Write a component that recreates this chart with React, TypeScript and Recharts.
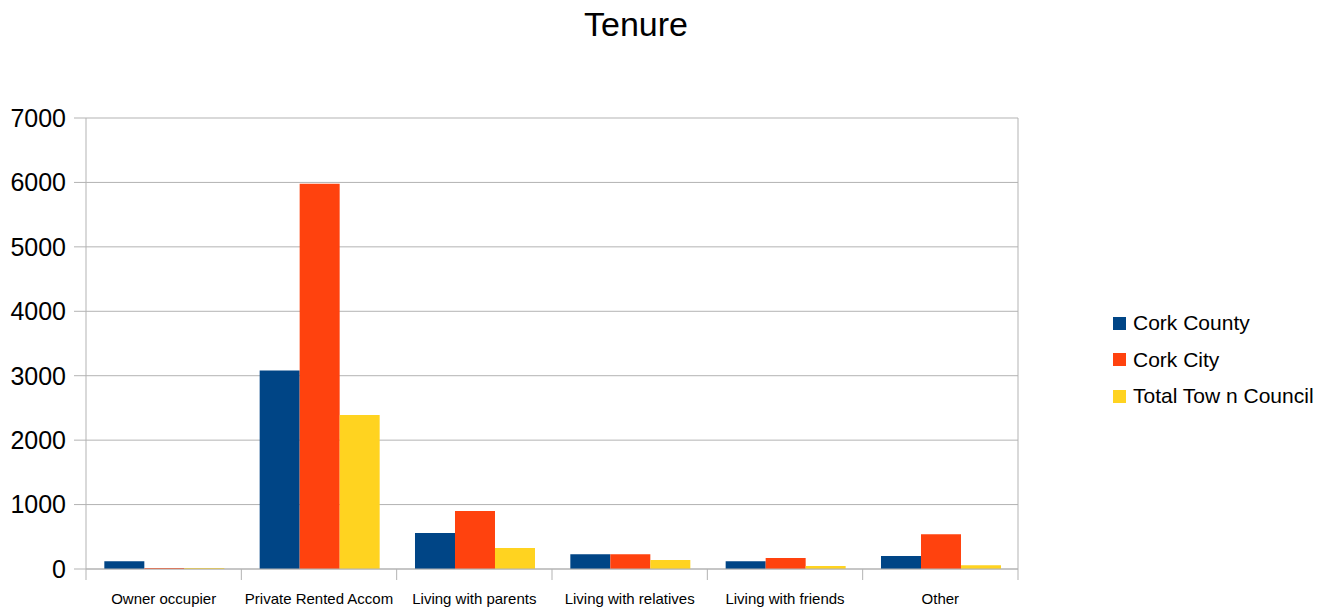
import { BarChart, Bar, XAxis, YAxis, CartesianGrid } from "recharts";

const categories = [
  "Owner occupier",
  "Private Rented Accom",
  "Living with parents",
  "Living with relatives",
  "Living with friends",
  "Other",
];
const corkCounty = [120, 3080, 560, 230, 120, 200];
const corkCity = [15, 5980, 900, 230, 170, 540];
const townCouncil = [15, 2390, 325, 140, 45, 60];
const yTicks = [0, 1000, 2000, 3000, 4000, 5000, 6000, 7000];

const seriesInfo = [
  { key: "county", name: "Cork County", color: "#004586" },
  { key: "city", name: "Cork City", color: "#ff420e" },
  { key: "town", name: "Total Tow n Council", color: "#ffd320" },
];

const data = categories.map((name, i) => ({
  name,
  county: corkCounty[i],
  city: corkCity[i],
  town: townCouncil[i],
}));

const FONT = "'Liberation Sans', Arial, sans-serif";
const W = 1333;
const H = 607;
const LEFT = 86;
const RIGHT_MARGIN = 314;
const PLOT_W = W - LEFT - RIGHT_MARGIN - 1;
const BAND = PLOT_W / categories.length;
const GRID = "#b3b3b3";

function CategoryTick(props: any) {
  const { x, y, payload, index } = props;
  const half = BAND / 2;
  return (
    <g>
      <line x1={x - half} x2={x - half} y1={y} y2={y + 11} stroke={GRID} />
      {index === categories.length - 1 && (
        <line x1={x + half} x2={x + half} y1={y} y2={y + 11} stroke={GRID} />
      )}
      <text x={x} y={y + 35} textAnchor="middle" fontSize={15} fill="#000" fontFamily={FONT}>
        {payload.value}
      </text>
    </g>
  );
}

function LegendBox() {
  return (
    <div
      style={{
        position: "absolute",
        left: 1113,
        top: 305,
        fontFamily: FONT,
        fontSize: 21,
        color: "#000",
        whiteSpace: "nowrap",
      }}
    >
      {seriesInfo.map((s) => (
        <div key={s.key} style={{ display: "flex", alignItems: "center", height: 36.5 }}>
          <span style={{ width: 13, height: 13, background: s.color, marginRight: 7, display: "inline-block" }} />
          <span>{s.name}</span>
        </div>
      ))}
    </div>
  );
}

export default function App() {
  return (
    <div style={{ position: "absolute", left: 0, top: 0, width: W, height: H, background: "#fff" }}>
      <div
        style={{
          position: "absolute",
          left: 0,
          top: 5,
          width: 1272,
          textAlign: "center",
          fontFamily: FONT,
          fontSize: 34,
          color: "#000",
        }}
      >
        Tenure
      </div>
      <BarChart
        width={W}
        height={H}
        data={data}
        margin={{ top: 118, right: RIGHT_MARGIN, bottom: 0, left: 0 }}
        barCategoryGap="11.8%"
        barGap={0}
      >
        <CartesianGrid vertical={false} stroke={GRID} strokeWidth={1} />
        <XAxis
          dataKey="name"
          height={38}
          axisLine={{ stroke: GRID }}
          tickLine={false}
          tickSize={0}
          tickMargin={0}
          interval={0}
          tick={<CategoryTick />}
        />
        <YAxis
          width={LEFT}
          domain={[0, 7000]}
          ticks={yTicks}
          interval={0}
          axisLine={{ stroke: GRID }}
          tickLine={{ stroke: GRID }}
          tickSize={12}
          tickMargin={8}
          tick={{ fontSize: 25, fill: "#000", fontFamily: FONT }}
        />
        <YAxis
          yAxisId="frame"
          orientation="right"
          width={1}
          domain={[0, 7000]}
          axisLine={{ stroke: GRID }}
          tick={false}
          tickLine={false}
        />
        {seriesInfo.map((s) => (
          <Bar key={s.key} dataKey={s.key} name={s.name} fill={s.color} isAnimationActive={false} />
        ))}
      </BarChart>
      <LegendBox />
    </div>
  );
}
